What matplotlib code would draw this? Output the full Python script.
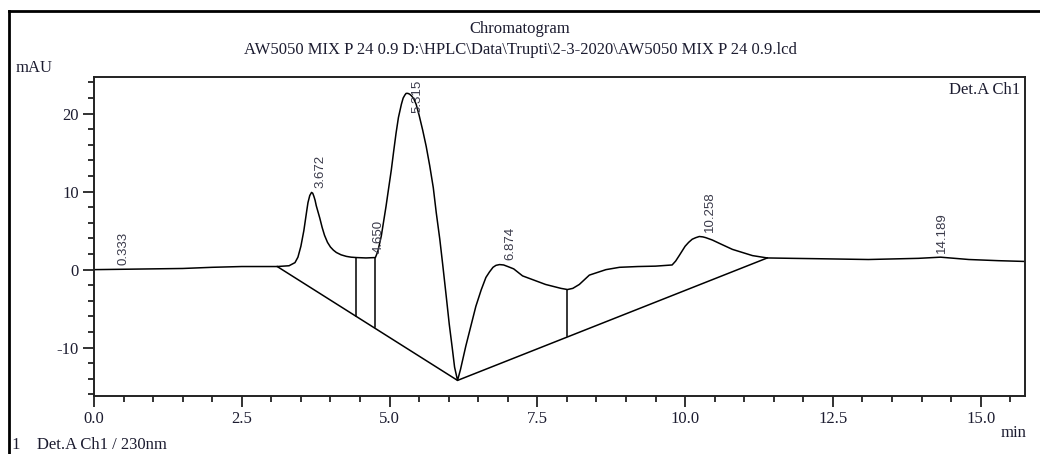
import matplotlib
matplotlib.use("Agg")
import matplotlib.pyplot as plt
from matplotlib.lines import Line2D
from matplotlib.ticker import MultipleLocator, FormatStrFormatter

plt.rcParams["axes.unicode_minus"] = False

# chromatogram trace (min, mAU)
time = [0.0, 0.5, 1.0, 1.5, 2.0, 2.5, 3.0, 3.1, 3.3, 3.4, 3.45, 3.5, 3.55, 3.6,
        3.62, 3.65, 3.68, 3.70, 3.72, 3.74, 3.76, 3.79, 3.82, 3.86, 3.9, 3.95,
        4.0, 4.05, 4.1, 4.18, 4.27, 4.35, 4.44, 4.6, 4.76,
        4.8, 4.86, 4.90, 4.94, 4.98, 5.03, 5.07, 5.11, 5.15, 5.2, 5.23, 5.26,
        5.28, 5.31, 5.34, 5.37, 5.41, 5.45, 5.50, 5.56, 5.62, 5.68, 5.74,
        5.79, 5.85, 5.9, 5.96, 6.01, 6.06, 6.1, 6.15, 6.2, 6.29, 6.38, 6.46,
        6.55, 6.63, 6.69, 6.75, 6.8, 6.86, 6.93, 7.0, 7.1,
        7.25, 7.64, 7.9, 8.01, 8.1, 8.21, 8.38, 8.66, 8.89, 9.2, 9.5, 9.78,
        9.84, 9.9, 9.95, 10.0, 10.06, 10.12, 10.18, 10.24, 10.3, 10.35, 10.46,
        10.6, 10.8, 11.14, 11.39, 11.8,
        12.26, 13.1, 13.95, 14.32, 14.8, 15.3, 15.75]
signal = [0.0, 0.05, 0.1, 0.15, 0.3, 0.4, 0.4, 0.4, 0.5, 0.9, 1.6, 3.0, 5.0, 7.6,
          8.6, 9.5, 9.9, 9.8, 9.4, 8.9, 8.2, 7.4, 6.6, 5.4, 4.4, 3.5,
          2.9, 2.5, 2.2, 1.9, 1.7, 1.6, 1.55, 1.5, 1.55,
          2.3, 4.3, 6.2, 8.1, 10.2, 12.8, 15.2, 17.5, 19.5, 21.2, 22.0, 22.4,
          22.6, 22.6, 22.5, 22.3, 21.9, 21.2, 19.8, 17.9, 15.8, 13.3, 10.5,
          7.3, 3.9, 0.6, -3.5, -7.0, -10.0, -12.5, -14.2, -12.8, -9.8, -7.1, -4.7,
          -2.6, -1.0, -0.3, 0.3, 0.55, 0.65, 0.6, 0.4, 0.1,
          -0.8, -1.9, -2.4, -2.55, -2.4, -1.9, -0.7, 0.0, 0.3, 0.4, 0.45, 0.6,
          1.1, 1.8, 2.4, 3.0, 3.5, 3.9, 4.1, 4.25, 4.2, 4.1, 3.8,
          3.3, 2.6, 1.8, 1.5, 1.45,
          1.4, 1.3, 1.45, 1.6, 1.3, 1.15, 1.05]

# integration baseline and drop lines
base_t = [3.1, 6.15, 11.39]
base_y = [0.4, -14.2, 1.5]
drop_t = [4.44, 4.76, 8.01]
drop_top = [1.55, 1.55, -2.55]
drop_bottom = [-6.0, -7.4, -8.5]

# peak labels
peak_t = [0.333, 3.672, 4.650, 5.315, 6.874, 10.258, 14.189]
peak_h = [0.05, 9.9, 1.55, 22.6, 0.65, 4.25, 1.6]

serif = "Liberation Serif"
sans = "Liberation Sans"
ink = "#1c1c30"

fig = plt.figure(figsize=(10.4, 4.54), dpi=100)
ax = fig.add_axes([94 / 1040, 58 / 454, 931 / 1040, 319 / 454])

ax.plot(time, signal, color="black", lw=1.1)
ax.plot(base_t, base_y, color="black", lw=1.1)
for t, y0, y1 in zip(drop_t, drop_bottom, drop_top):
    ax.plot([t, t], [y0, y1], color="black", lw=1.1)

ax.set_xlim(0, 15.75)
ax.set_ylim(-16.2, 24.7)
ax.xaxis.set_major_locator(MultipleLocator(2.5))
ax.xaxis.set_minor_locator(MultipleLocator(0.5))
ax.yaxis.set_major_locator(MultipleLocator(10))
ax.yaxis.set_minor_locator(MultipleLocator(2))
ax.xaxis.set_major_formatter(FormatStrFormatter("%.1f"))
ax.tick_params(which="major", length=8, width=1.3, color="#222222", pad=3)
ax.tick_params(which="minor", length=4.5, width=1.3, color="#222222")
for lab in ax.get_xticklabels() + ax.get_yticklabels():
    lab.set_fontfamily(serif)
    lab.set_fontsize(12)
    lab.set_color(ink)
for sp in ax.spines.values():
    sp.set_linewidth(1.4)
    sp.set_color("#222222")

ytop = ax.get_ylim()[1]
for t, h in zip(peak_t, peak_h):
    txt = "%.3f" % t
    if h + 5.0 > ytop:
        ax.annotate(txt, (t, ytop), xytext=(7, -2), textcoords="offset points",
                    rotation=90, ha="center", va="top", fontsize=9.5,
                    family=sans, color="#3a3a4a")
    else:
        ax.annotate(txt, (t, h), xytext=(7, 3), textcoords="offset points",
                    rotation=90, ha="center", va="bottom", fontsize=9.5,
                    family=sans, color="#3a3a4a")

ax.text(0.995, 0.985, "Det.A Ch1", transform=ax.transAxes, ha="right", va="top",
        family=serif, fontsize=12, color=ink)

fig.text(520 / 1040, 1 - 29 / 454, "Chromatogram", ha="center", va="center",
         family=serif, fontsize=12, color=ink)
fig.text(520 / 1040, 1 - 50 / 454,
         "AW5050 MIX P 24 0.9 D:\\HPLC\\Data\\Trupti\\2-3-2020\\AW5050 MIX P 24 0.9.lcd",
         ha="center", va="center", family=serif, fontsize=12, color=ink)
fig.text(16 / 1040, 1 - 68 / 454, "mAU", ha="left", va="center",
         family=serif, fontsize=12, color=ink)
fig.text(1026 / 1040, 1 - 433 / 454, "min", ha="right", va="center",
         family=serif, fontsize=12, color=ink)
fig.text(12 / 1040, 1 / 454, "1    Det.A Ch1 / 230nm", ha="left", va="bottom",
         family=serif, fontsize=12, color=ink)

# page frame
fig.add_artist(Line2D([9 / 1040, 9 / 1040], [0, 1 - 11 / 454],
                      transform=fig.transFigure, color="black", lw=2))
fig.add_artist(Line2D([9 / 1040, 1], [1 - 11 / 454, 1 - 11 / 454],
                      transform=fig.transFigure, color="black", lw=2))

fig.savefig("out.png", dpi=100)
